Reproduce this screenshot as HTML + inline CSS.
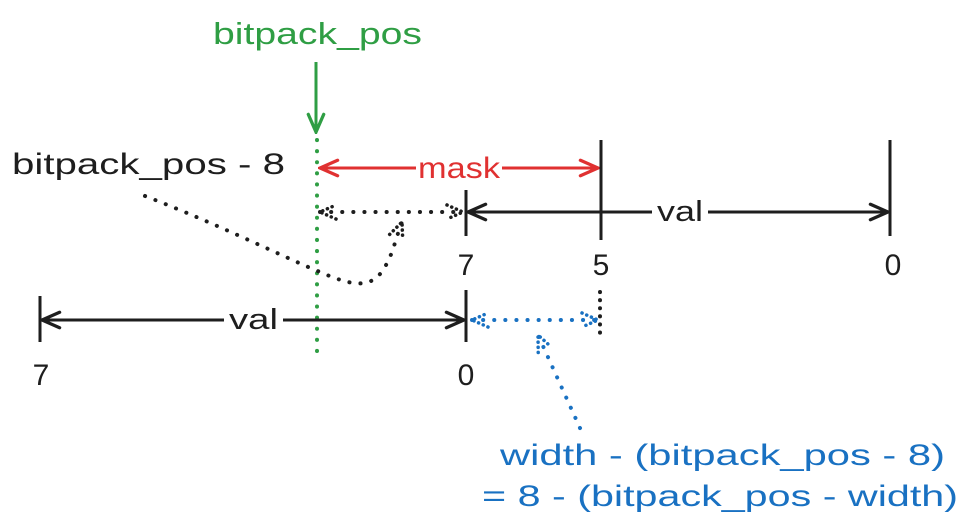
<!DOCTYPE html>
<html><head><meta charset="utf-8">
<style>
html,body{margin:0;padding:0;background:#fff;}
svg{display:block;}
text{font-family:"Liberation Sans","DejaVu Sans",sans-serif;}
</style></head>
<body>
<svg width="973" height="530" viewBox="0 0 973 530" xmlns="http://www.w3.org/2000/svg">
<defs>
<marker id="ahk" viewBox="0 0 20 20" refX="18" refY="10" markerWidth="22" markerHeight="22" markerUnits="userSpaceOnUse" orient="auto-start-reverse">
<path d="M2,3 L18,10 L2,17" fill="none" stroke="#1e1e1e" stroke-width="3" stroke-linecap="round"/>
</marker>
<marker id="ahr" viewBox="0 0 20 20" refX="18" refY="10" markerWidth="22" markerHeight="22" markerUnits="userSpaceOnUse" orient="auto-start-reverse">
<path d="M2,3 L18,10 L2,17" fill="none" stroke="#e03131" stroke-width="3" stroke-linecap="round"/>
</marker>
<marker id="ahg" viewBox="0 0 20 20" refX="18" refY="10" markerWidth="22" markerHeight="22" markerUnits="userSpaceOnUse" orient="auto">
<path d="M2,3 L18,10 L2,17" fill="none" stroke="#2f9e44" stroke-width="3" stroke-linecap="round"/>
</marker>
<marker id="ahd" viewBox="0 0 20 20" refX="18" refY="10" markerWidth="20" markerHeight="20" markerUnits="userSpaceOnUse" orient="auto-start-reverse">
<path d="M2,3 L18,10 L2,17" fill="none" stroke="#1e1e1e" stroke-width="3.5" stroke-dasharray="0.1 5" stroke-linecap="round"/>
</marker>
<marker id="ahb" viewBox="0 0 20 20" refX="18" refY="10" markerWidth="20" markerHeight="20" markerUnits="userSpaceOnUse" orient="auto-start-reverse">
<path d="M2,3 L18,10 L2,17" fill="none" stroke="#1971c2" stroke-width="3.5" stroke-dasharray="0.1 5" stroke-linecap="round"/>
</marker>
</defs>

<text x="213" y="44" font-size="31" fill="#2f9e44" textLength="209" lengthAdjust="spacingAndGlyphs">bitpack_pos</text>
<line x1="316" y1="62" x2="316" y2="132" stroke="#2f9e44" stroke-width="3" marker-end="url(#ahg)"/>
<line x1="317" y1="140" x2="317" y2="356" stroke="#2f9e44" stroke-width="4" stroke-dasharray="0.1 11" stroke-linecap="round"/>

<text x="12" y="174" font-size="30" fill="#1e1e1e" textLength="273" lengthAdjust="spacingAndGlyphs">bitpack_pos - 8</text>

<line x1="416" y1="168" x2="320" y2="168" stroke="#e03131" stroke-width="3" marker-end="url(#ahr)"/>
<line x1="502" y1="168" x2="598" y2="168" stroke="#e03131" stroke-width="3" marker-end="url(#ahr)"/>
<text x="418" y="178" font-size="30" fill="#e03131" textLength="82" lengthAdjust="spacingAndGlyphs">mask</text>

<line x1="601" y1="140" x2="601" y2="240" stroke="#1e1e1e" stroke-width="3"/>
<line x1="890" y1="140" x2="890" y2="236" stroke="#1e1e1e" stroke-width="3"/>
<line x1="466" y1="190" x2="466" y2="236" stroke="#1e1e1e" stroke-width="3"/>

<line x1="468" y1="212" x2="652" y2="212" stroke="#1e1e1e" stroke-width="3" marker-start="url(#ahk)"/>
<line x1="708" y1="212" x2="888" y2="212" stroke="#1e1e1e" stroke-width="3" marker-end="url(#ahk)"/>
<text x="657" y="221" font-size="29" fill="#1e1e1e" textLength="46" lengthAdjust="spacingAndGlyphs">val</text>

<text x="466" y="275" font-size="30" fill="#1e1e1e" text-anchor="middle">7</text>
<text x="601" y="275" font-size="30" fill="#1e1e1e" text-anchor="middle">5</text>
<text x="893" y="275" font-size="30" fill="#1e1e1e" text-anchor="middle">0</text>

<line x1="320" y1="212" x2="463" y2="212" stroke="#1e1e1e" stroke-width="4" stroke-dasharray="0.1 11" stroke-linecap="round" marker-start="url(#ahd)" marker-end="url(#ahd)"/>
<path d="M145,196 C220,225 290,260 320,272 C350,285 370,290 383,270 C393,255 395,240 402,222" fill="none" stroke="#1e1e1e" stroke-width="4" stroke-dasharray="0.1 11" stroke-linecap="round" marker-end="url(#ahd)"/>

<line x1="40" y1="296" x2="40" y2="342" stroke="#1e1e1e" stroke-width="3"/>
<line x1="466" y1="290" x2="466" y2="342" stroke="#1e1e1e" stroke-width="3"/>
<line x1="42" y1="320" x2="224" y2="320" stroke="#1e1e1e" stroke-width="3" marker-start="url(#ahk)"/>
<line x1="283" y1="320" x2="464" y2="320" stroke="#1e1e1e" stroke-width="3" marker-end="url(#ahk)"/>
<text x="229" y="329" font-size="29" fill="#1e1e1e" textLength="49" lengthAdjust="spacingAndGlyphs">val</text>
<text x="41" y="385" font-size="30" fill="#1e1e1e" text-anchor="middle">7</text>
<text x="466" y="385" font-size="30" fill="#1e1e1e" text-anchor="middle">0</text>

<line x1="600" y1="292" x2="600" y2="340" stroke="#1e1e1e" stroke-width="4" stroke-dasharray="0.1 8" stroke-linecap="round"/>
<line x1="472" y1="320" x2="598" y2="320" stroke="#1971c2" stroke-width="4" stroke-dasharray="0.1 11" stroke-linecap="round" marker-start="url(#ahb)" marker-end="url(#ahb)"/>
<line x1="580" y1="428" x2="538" y2="335" stroke="#1971c2" stroke-width="4" stroke-dasharray="0.1 11" stroke-linecap="round" marker-end="url(#ahb)"/>

<text x="500" y="465" font-size="30" fill="#1971c2" textLength="445" lengthAdjust="spacingAndGlyphs">width - (bitpack_pos - 8)</text>
<text x="482" y="506" font-size="30" fill="#1971c2" textLength="476" lengthAdjust="spacingAndGlyphs">= 8 - (bitpack_pos - width)</text>
</svg>
</body></html>
